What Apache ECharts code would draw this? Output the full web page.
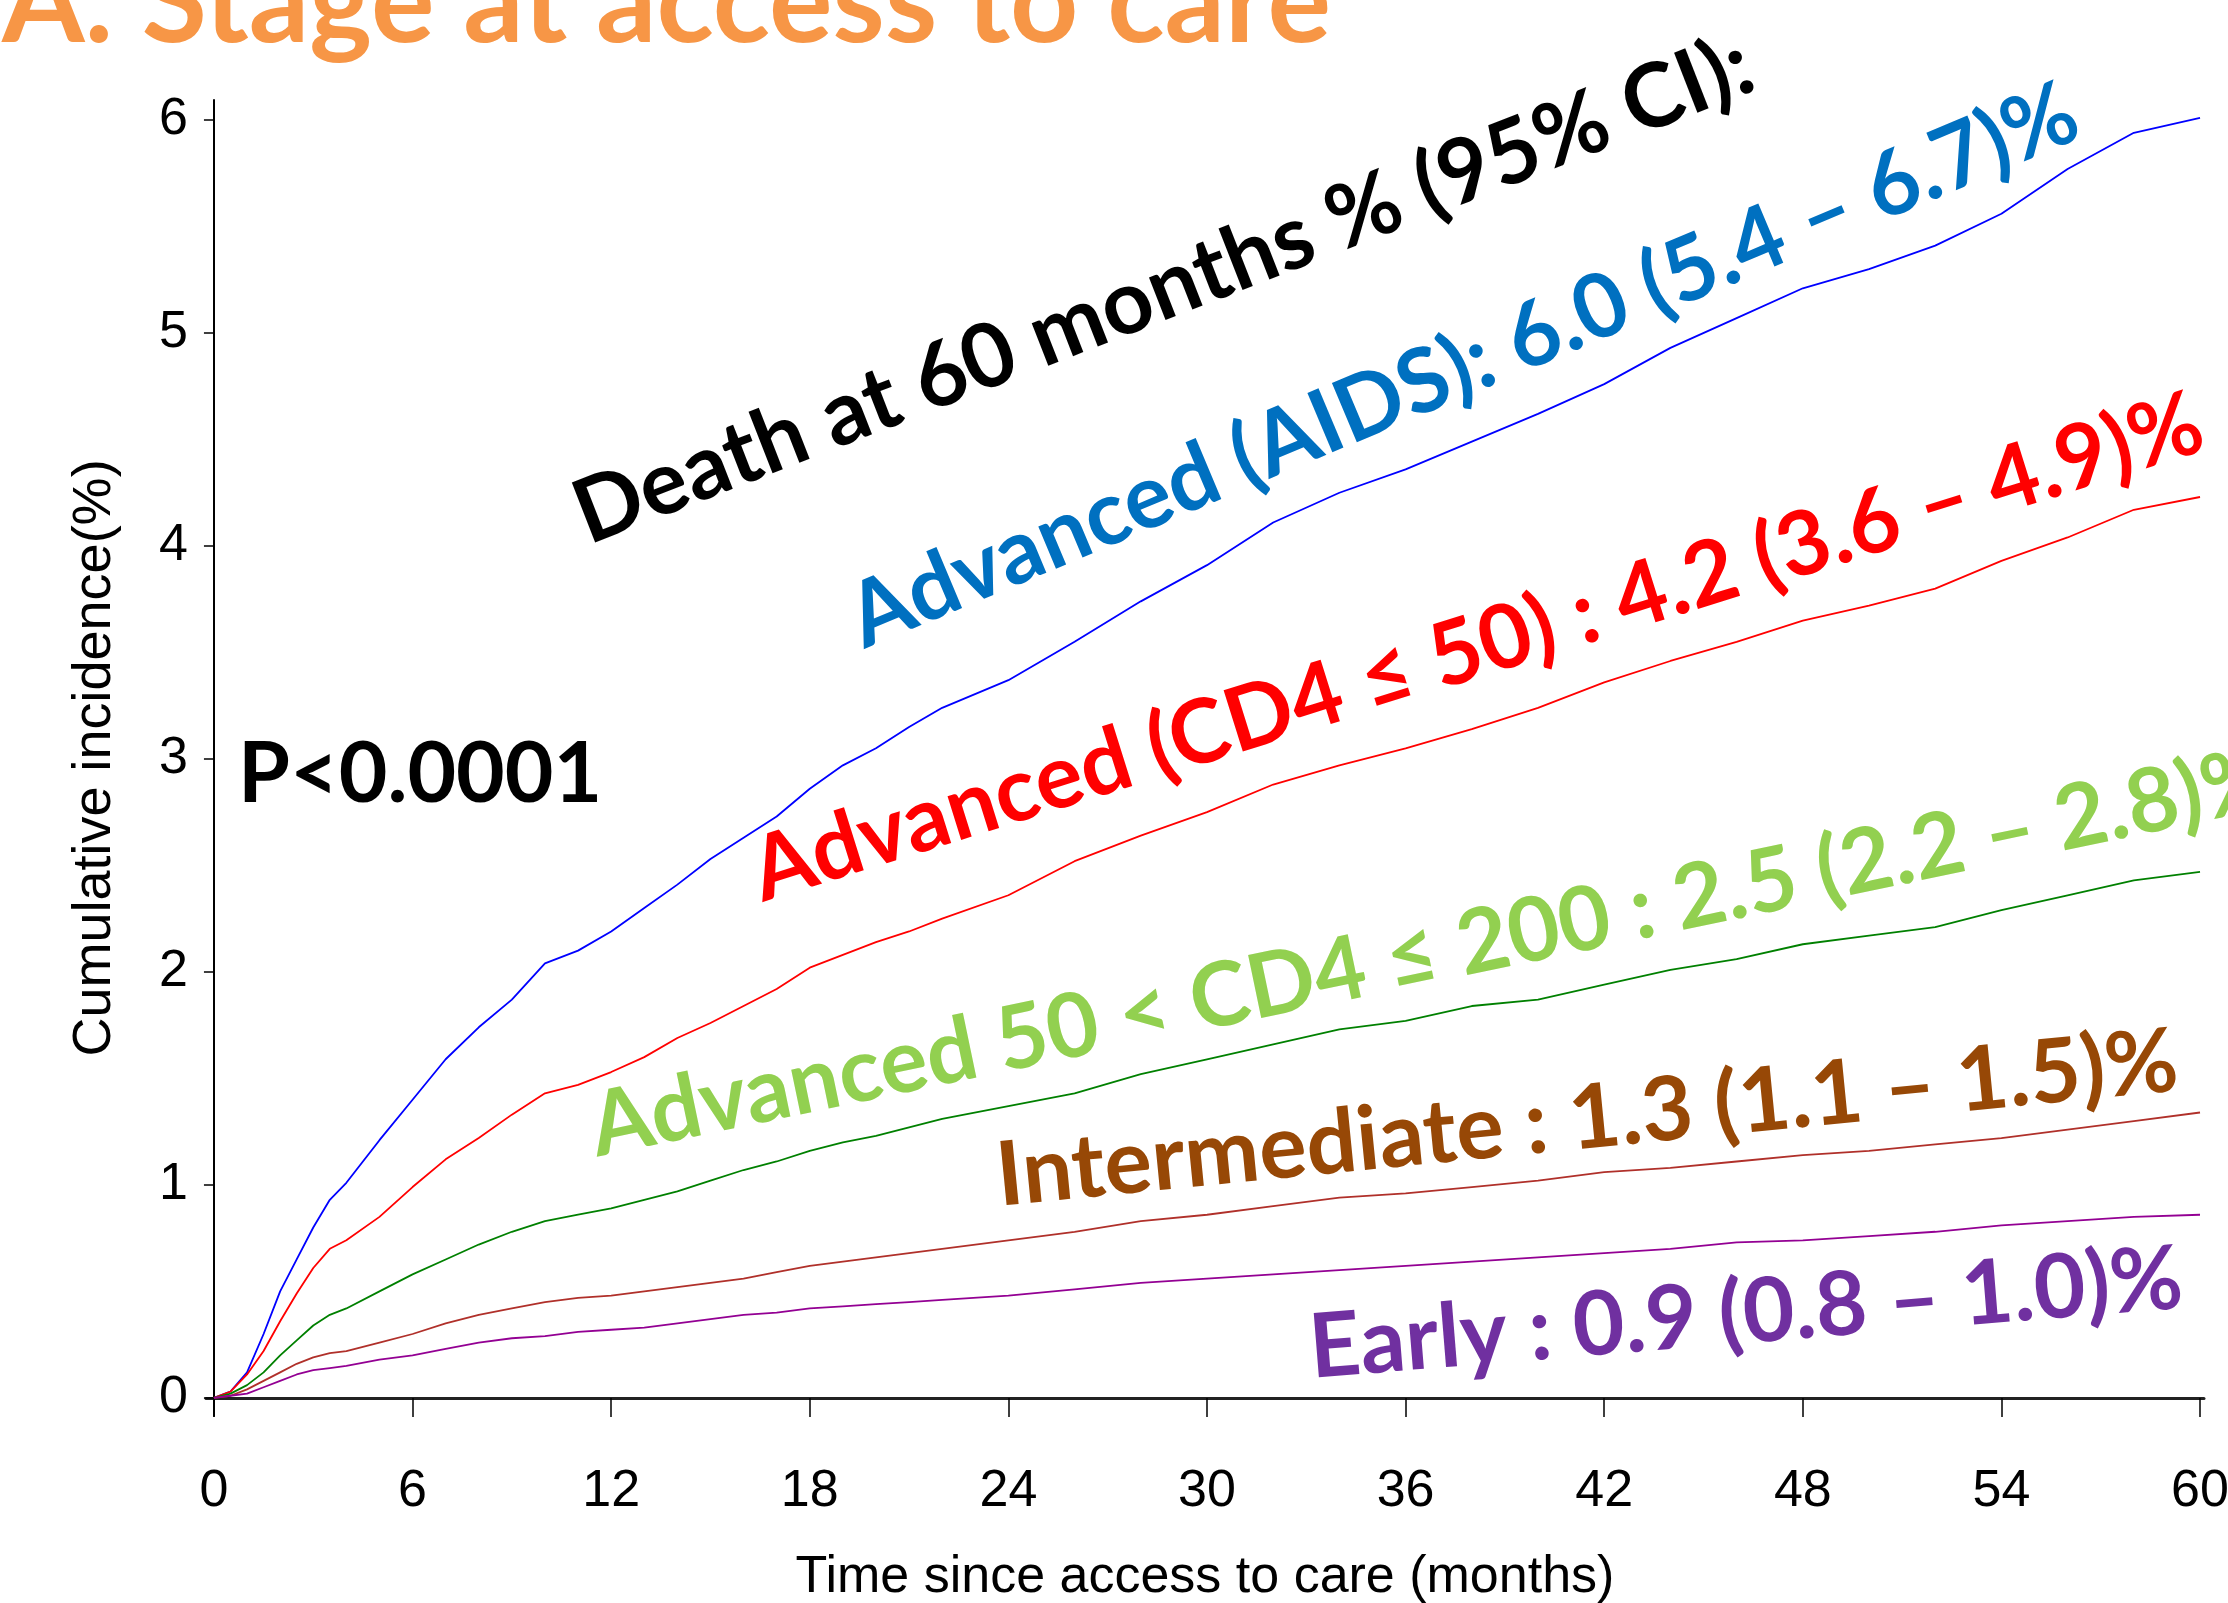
<!DOCTYPE html>
<html>
<head>
<meta charset="utf-8">
<script src="https://cdn.jsdelivr.net/npm/echarts@6/dist/echarts.min.js"></script>
<style>
  html, body { margin: 0; padding: 0; background: #fff; }
  #chart { width: 2228px; height: 1603px; }
</style>
</head>
<body>
<div id="chart"></div>
<script>
// months since access to care
const months = [0, 0.5, 1, 1.5, 2, 2.5, 3, 3.5, 4, 5, 6, 7, 8, 9, 10, 11, 12, 13, 14, 15, 16, 17, 18, 19, 20, 21, 22,
  24, 26, 28, 30, 32, 34, 36, 38, 40, 42, 44, 46, 48, 50, 52, 54, 56, 58, 60];

// cumulative incidence of death (%)
const aids = [0, 0.03, 0.12, 0.30, 0.50, 0.65, 0.80, 0.93, 1.01, 1.21, 1.40, 1.59, 1.74, 1.87, 2.04, 2.10, 2.19, 2.30, 2.41, 2.53, 2.63, 2.73, 2.86, 2.97, 3.05, 3.15, 3.24,
  3.37, 3.55, 3.74, 3.91, 4.11, 4.25, 4.36, 4.49, 4.62, 4.76, 4.93, 5.07, 5.21, 5.30, 5.41, 5.56, 5.77, 5.94, 6.01];
const cd4le50 = [0, 0.03, 0.11, 0.22, 0.36, 0.49, 0.61, 0.70, 0.74, 0.85, 0.99, 1.12, 1.22, 1.33, 1.43, 1.47, 1.53, 1.60, 1.69, 1.76, 1.84, 1.92, 2.02, 2.08, 2.14, 2.19, 2.25,
  2.36, 2.52, 2.64, 2.75, 2.88, 2.97, 3.05, 3.14, 3.24, 3.36, 3.46, 3.55, 3.65, 3.72, 3.80, 3.93, 4.04, 4.17, 4.23];
const cd4le200 = [0, 0.02, 0.06, 0.12, 0.20, 0.27, 0.34, 0.39, 0.42, 0.50, 0.58, 0.65, 0.72, 0.78, 0.83, 0.86, 0.89, 0.93, 0.97, 1.02, 1.07, 1.11, 1.16, 1.20, 1.23, 1.27, 1.31,
  1.37, 1.43, 1.52, 1.59, 1.66, 1.73, 1.77, 1.84, 1.87, 1.94, 2.01, 2.06, 2.13, 2.17, 2.21, 2.29, 2.36, 2.43, 2.47];
const intermediate = [0, 0.01, 0.04, 0.08, 0.12, 0.16, 0.19, 0.21, 0.22, 0.26, 0.30, 0.35, 0.39, 0.42, 0.45, 0.47, 0.48, 0.50, 0.52, 0.54, 0.56, 0.59, 0.62, 0.64, 0.66, 0.68, 0.70,
  0.74, 0.78, 0.83, 0.86, 0.90, 0.94, 0.96, 0.99, 1.02, 1.06, 1.08, 1.11, 1.14, 1.16, 1.19, 1.22, 1.26, 1.30, 1.34];
const early = [0, 0.01, 0.02, 0.05, 0.08, 0.11, 0.13, 0.14, 0.15, 0.18, 0.20, 0.23, 0.26, 0.28, 0.29, 0.31, 0.32, 0.33, 0.35, 0.37, 0.39, 0.40, 0.42, 0.43, 0.44, 0.45, 0.46,
  0.48, 0.51, 0.54, 0.56, 0.58, 0.60, 0.62, 0.64, 0.66, 0.68, 0.70, 0.73, 0.74, 0.76, 0.78, 0.81, 0.83, 0.85, 0.86];

const xTicks = [0, 6, 12, 18, 24, 30, 36, 42, 48, 54, 60];
const yTicks = [0, 1, 2, 3, 4, 5, 6];

const labels = [
  { text: "Death at 60 months % (95% CI):", color: "#000000", bx: 590, by: 549, angle: 21.3 },
  { text: "Advanced (AIDS): 6.0 (5.4 \u2013 6.7)%", color: "#0070C0", bx: 866, by: 653, angle: 22.8 },
  { text: "Advanced (CD4 \u2264 50) : 4.2 (3.6 \u2013 4.9)%", color: "#FF0000", bx: 764, by: 906, angle: 17.4 },
  { text: "Advanced 50 < CD4 \u2264 200 : 2.5 (2.2 \u2013 2.8)%", color: "#92D050", bx: 598, by: 1161, angle: 11.8 },
  { text: "Intermediate : 1.3 (1.1 \u2013 1.5)%", color: "#974806", bx: 1000, by: 1210, angle: 5.6 },
  { text: "Early : 0.9 (0.8 \u2013 1.0)%", color: "#7030A0", bx: 1312, by: 1382, angle: 4.6 }
];

const pair = (ys) => months.map((m, i) => [m, ys[i]]);

const FS = 89;
function rotatedText(l) {
  const t = l.angle * Math.PI / 180;
  const off = 0.37 * FS;
  return {
    type: "text",
    x: l.bx - off * Math.sin(t),
    y: l.by - off * Math.cos(t),
    rotation: t,
    style: {
      text: l.text,
      fill: l.color,
      font: "bold " + FS + "px Lato",
      textAlign: "left",
      textVerticalAlign: "middle"
    }
  };
}

const chart = echarts.init(document.getElementById("chart"));
const axisFont = { fontFamily: "Liberation Sans, Arial", fontSize: 52, color: "#000" };

chart.setOption({
  animation: false,
  backgroundColor: "#fff",
  grid: { left: 206, top: 100, right: 24, bottom: 187, containLabel: false, outerBoundsMode: "none" },
  xAxis: {
    type: "value",
    min: -0.24,
    max: 60.12,
    name: "Time since access to care (months)",
    nameLocation: "middle",
    nameGap: 136,
    nameTextStyle: axisFont,
    splitLine: { show: false },
    axisLine: { lineStyle: { color: "#222", width: 3 } },
    axisTick: { length: 19, customValues: xTicks, lineStyle: { color: "#000", width: 1.5 } },
    axisLabel: Object.assign({ customValues: xTicks, margin: 50 }, axisFont)
  },
  yAxis: {
    type: "value",
    min: -0.085,
    max: 6.094,
    name: "Cumulative incidence(%)",
    nameLocation: "middle",
    nameRotate: 90,
    nameGap: 84,
    nameTextStyle: Object.assign({}, axisFont, { fontSize: 54 }),
    splitLine: { show: false },
    axisLine: { show: true, lineStyle: { color: "#000", width: 2 } },
    axisTick: { show: true, length: 10, customValues: yTicks, lineStyle: { color: "#000", width: 1.5 } },
    axisLabel: Object.assign({ customValues: yTicks, margin: 18 }, axisFont)
  },
  series: [
    { name: "Advanced (AIDS)", type: "line", data: pair(aids), color: "#0000FF" },
    { name: "Advanced (CD4<=50)", type: "line", data: pair(cd4le50), color: "#FF0000" },
    { name: "Advanced 50<CD4<=200", type: "line", data: pair(cd4le200), color: "#008000" },
    { name: "Intermediate", type: "line", data: pair(intermediate), color: "#B0302A" },
    { name: "Early", type: "line", data: pair(early), color: "#930093" }
  ].map(s => Object.assign(s, { showSymbol: false, lineStyle: { width: 1.8 } })),
  graphic: [
    {
      type: "text", x: 2, y: 48 - 0.37 * 119,
      style: { text: "A. Stage at access to care", fill: "#F79646", font: "bold 119px Lato", textAlign: "left", textVerticalAlign: "middle" }
    },
    {
      type: "text", x: 238, y: 806 - 0.37 * 84,
      style: { text: "P<0.0001", fill: "#000", font: "bold 84px Lato", textAlign: "left", textVerticalAlign: "middle" }
    }
  ].concat(labels.map(rotatedText))
});
</script>
</body>
</html>
